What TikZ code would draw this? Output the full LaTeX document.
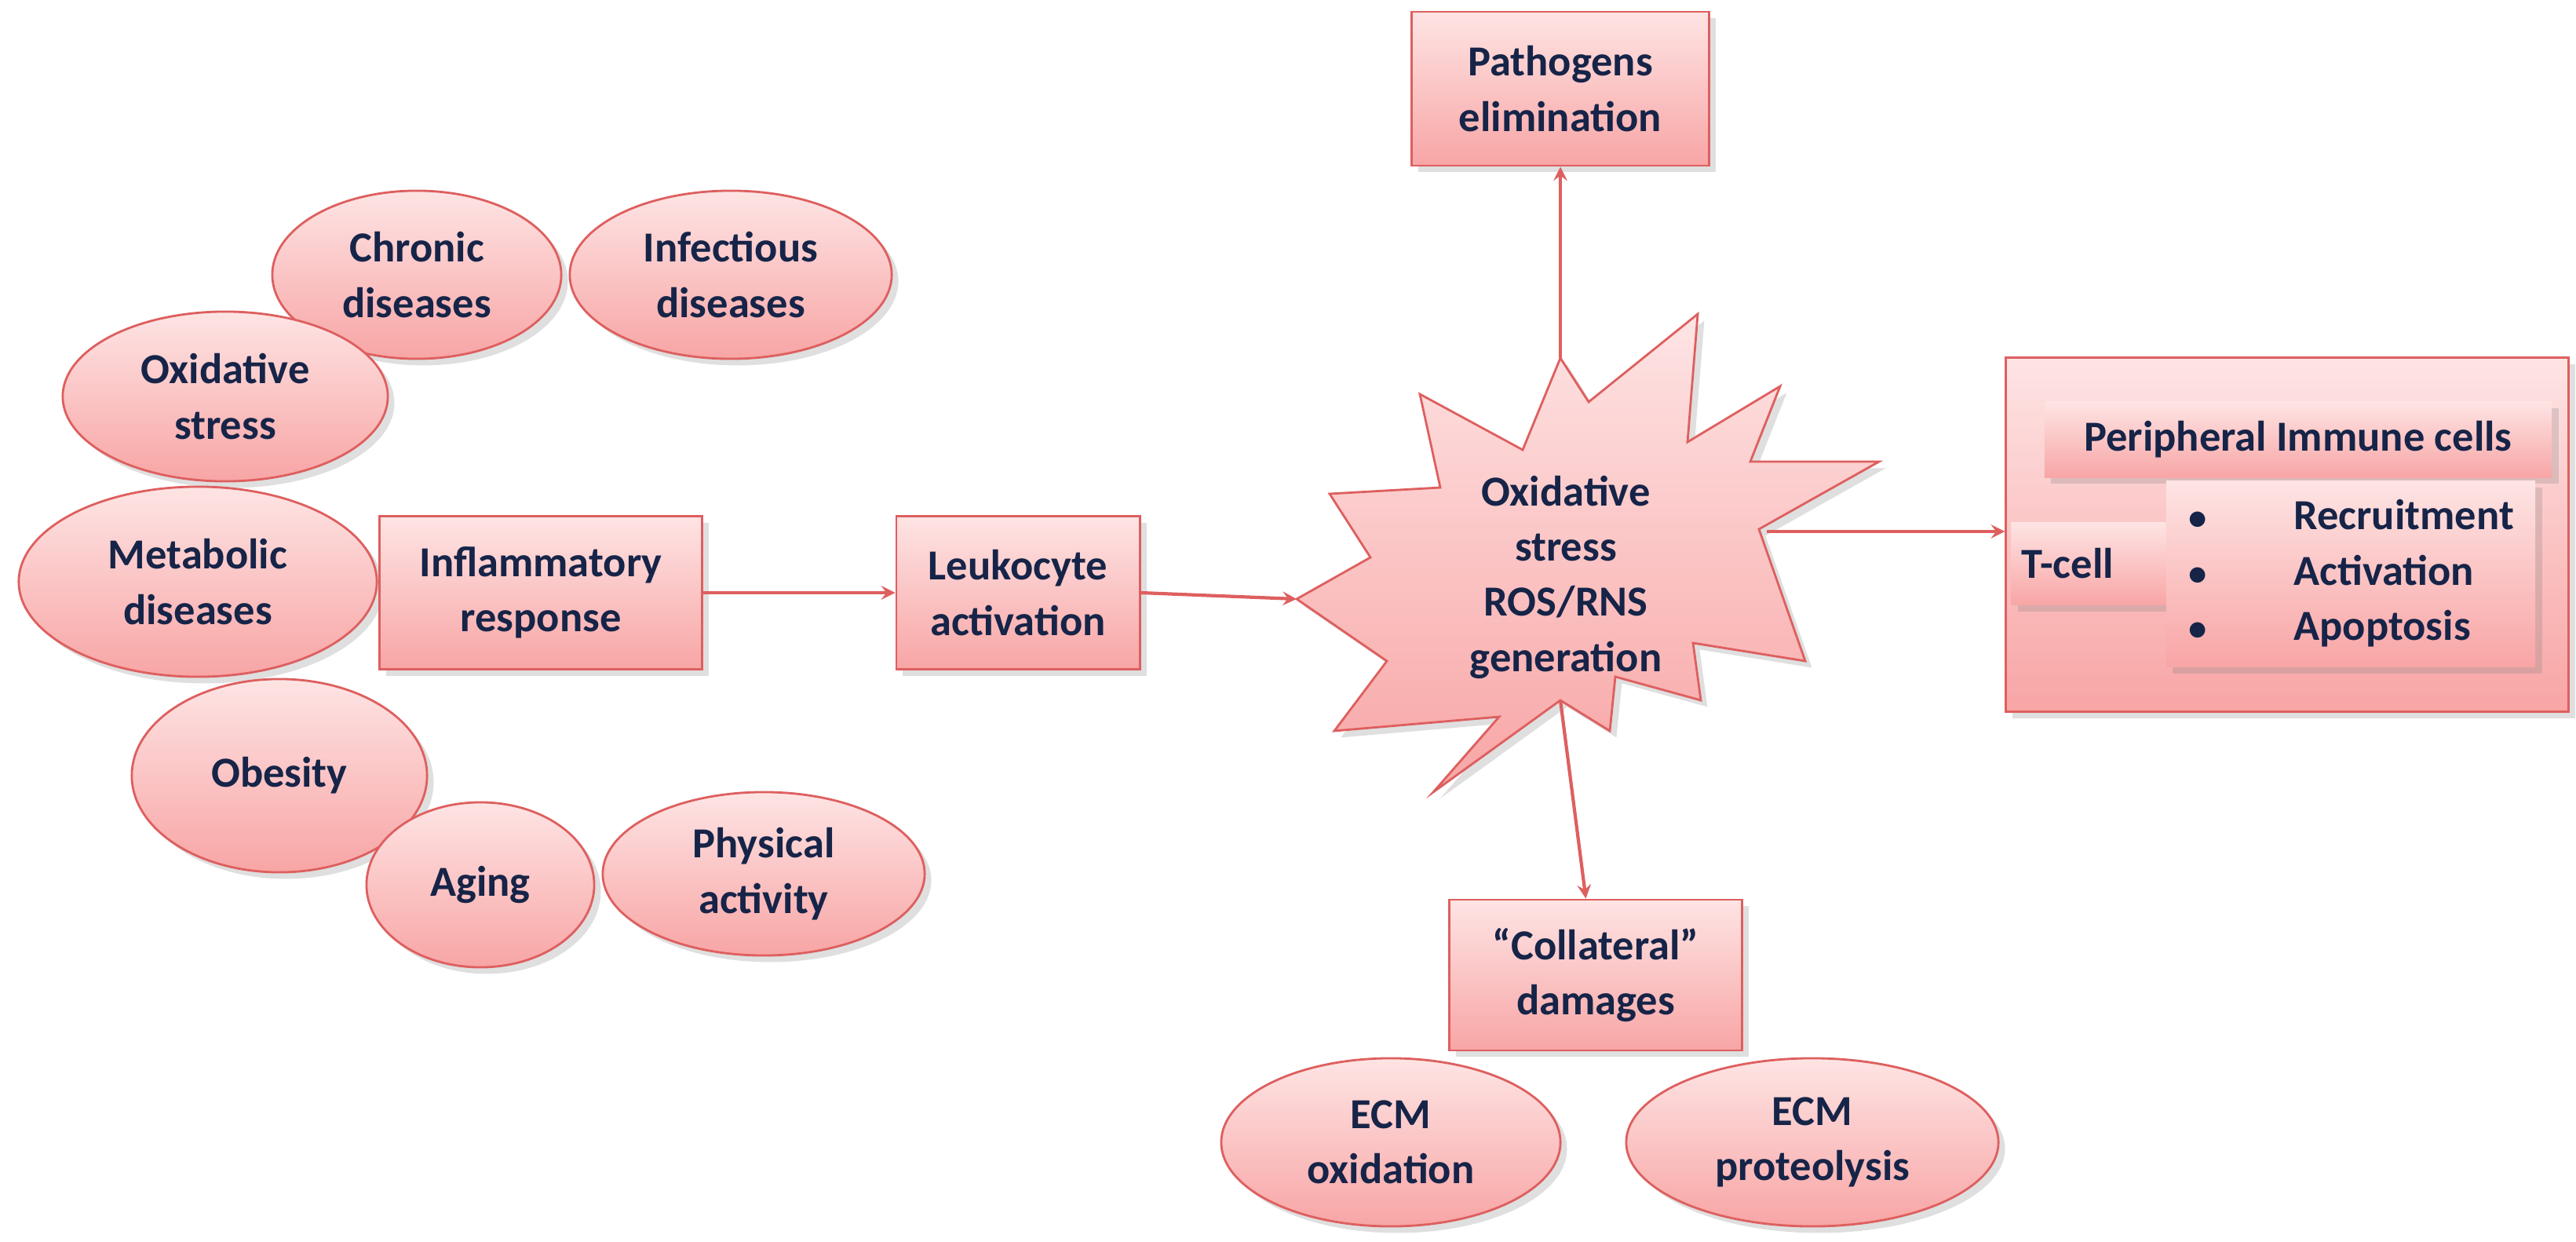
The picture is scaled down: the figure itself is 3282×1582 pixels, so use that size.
\documentclass[tikz,border=0pt]{standalone}
\usepackage{fontspec}
\setmainfont{Carlito}
\usepackage{xcolor}
\usepackage{tikz}
\usetikzlibrary{shapes.geometric, arrows, shadows}
\definecolor{pinktop}{RGB}{254,228,228}
\definecolor{pinkbot}{RGB}{248,165,165}
\definecolor{rim}{RGB}{222,95,95}
\definecolor{ink}{RGB}{22,36,72}
\tikzstyle{txt} = [text=ink, font=\fontsize{15.5}{20}\selectfont\bfseries, align=center]
\tikzstyle{oval} = [txt, ellipse, draw=rim, thick, top color=pinktop, bottom color=pinkbot, drop shadow={opacity=0.25}]
\tikzstyle{process} = [txt, rectangle, draw=rim, thick, top color=pinktop, bottom color=pinkbot, drop shadow={opacity=0.25}]
\tikzstyle{panel} = [txt, rectangle, top color=pinktop, bottom color=pinkbot, drop shadow={opacity=0.25}]
\tikzstyle{arrow} = [rim, very thick, ->, >=stealth]

\begin{document}
\begin{tikzpicture}[x=0.01cm, y=-0.01cm]
    \useasboundingbox (0,0) rectangle (3282,1582);
    % left cluster
    \node (chronic) [oval, minimum width=3.68cm, minimum height=2.14cm] at (531,350) {Chronic\\diseases};
    \node (infect) [oval, minimum width=4.1cm, minimum height=2.14cm] at (931,350) {Infectious\\diseases};
    \node (oxstress) [oval, minimum width=4.14cm, minimum height=2.16cm] at (287,505) {Oxidative\\stress};
    \node (metab) [oval, minimum width=4.56cm, minimum height=2.42cm] at (252,741) {Metabolic\\diseases};
    \node (obesity) [oval, minimum width=3.76cm, minimum height=2.46cm] at (356,988) {Obesity};
    \node (aging) [oval, minimum width=2.9cm, minimum height=2.1cm] at (612,1127) {Aging};
    \node (physical) [oval, minimum width=4.1cm, minimum height=2.08cm] at (973,1113) {Physical\\activity};
    \node (inflam) [process, minimum width=4.1cm, minimum height=1.95cm] at (689,755) {Inflammatory\\response};
    \node (leuko) [process, minimum width=3.1cm, minimum height=1.95cm] at (1297,755) {Leukocyte\\activation};
    % burst
    \draw [rim, thick, top color=pinktop, bottom color=pinkbot, drop shadow={opacity=0.25}]
        (1988,456) -- (2024,512) -- (2163,400) -- (2150,563) -- (2268,492) -- (2230,588)
        -- (2394,588) -- (2241,674) -- (2300,842) -- (2157,819) -- (2167,892) -- (2058,862)
        -- (2051,931) -- (1988,892) -- (1826,1009) -- (1910,913) -- (1700,931) -- (1767,842)
        -- (1652,763) -- (1746,710) -- (1694,629) -- (1835,621) -- (1809,502) -- (1940,573) -- cycle;
    \node (ros) [txt] at (1995,735) {Oxidative\\stress\\ROS/RNS\\generation};
    \coordinate (rosW) at (1652,763);
    \coordinate (rosN) at (1988,456);
    \coordinate (rosS) at (1988,892);
    \coordinate (rosE) at (2251,677);
    % outcomes
    \node (pathogen) [process, minimum width=3.79cm, minimum height=1.96cm] at (1988,113) {Pathogens\\elimination};
    \node (collat) [process, minimum width=3.73cm, minimum height=1.92cm] at (2033,1242) {``Collateral''\\damages};
    \node (ecmox) [oval, minimum width=4.32cm, minimum height=2.14cm] at (1772,1455) {ECM\\oxidation};
    \node (ecmpro) [oval, minimum width=4.74cm, minimum height=2.14cm] at (2309,1455) {ECM\\proteolysis};
    \node (periph) [process, minimum width=7.16cm, minimum height=4.5cm] at (2914,681) {};
    \node (immune) [panel, minimum width=6.46cm, minimum height=0.96cm] at (2928,560) {Peripheral Immune cells};
    \node (tcell) [panel, minimum width=1.97cm, minimum height=1.05cm, text width=1.7cm, align=left] at (2661,718) {T-cell};
    \node (roles) [panel, minimum width=4.7cm, minimum height=2.37cm] at (2995,731) {\begin{tabular}{@{}l@{\hspace{1.1cm}}l@{}}
        $\bullet$ & Recruitment \\
        $\bullet$ & Activation \\
        $\bullet$ & Apoptosis
    \end{tabular}};
    \draw [arrow] (inflam) -- (leuko);
    \draw [arrow] (leuko.east) -- (rosW);
    \draw [arrow] (rosN) -- (pathogen);
    \draw [arrow] (rosS) -- (collat);
    \draw [arrow] (rosE) -- (rosE -| periph.west);
\end{tikzpicture}
\end{document}
